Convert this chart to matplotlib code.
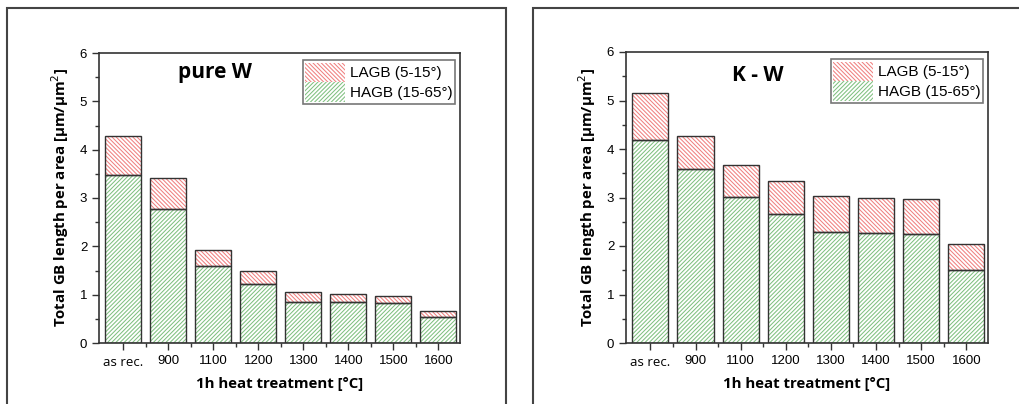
import matplotlib
matplotlib.use("Agg")
import matplotlib.pyplot as plt
from matplotlib.patches import Rectangle, Patch
from matplotlib.ticker import MultipleLocator, FixedLocator
import numpy as np

categories = ["as rec.", "900", "1100", "1200", "1300", "1400", "1500", "1600"]

pureW_total = [4.28, 3.41, 1.93, 1.49, 1.06, 1.02, 0.98, 0.66]
pureW_hagb = [3.47, 2.78, 1.59, 1.22, 0.84, 0.84, 0.83, 0.53]

KW_total = [5.15, 4.26, 3.68, 3.35, 3.04, 3.00, 2.97, 2.05]
KW_hagb = [4.19, 3.59, 3.02, 2.65, 2.29, 2.27, 2.25, 1.51]

titles = ["pure W", "K - W"]
legend_labels = ["LAGB (5-15°)", "HAGB (15-65°)"]
ylabel = "Total GB length per area [µm/µm$^2$]"
xlabel = "1h heat treatment [°C]"

RED = "#f08080"
GREEN = "#80c080"
EDGE = "#333333"
HATCH_G = "/" * 8
HATCH_R = "\\" * 8

plt.rcParams["hatch.linewidth"] = 0.75

W, H = 1020, 404
fig = plt.figure(figsize=(W / 100, H / 100), dpi=100)

# panel frames
for (x0, x1) in [(7, 506), (533, 1030)]:
    fig.patches.append(Rectangle((x0 / W, -0.05), (x1 - x0) / W, 1.05 - 8 / H,
                                 transform=fig.transFigure, fill=False,
                                 edgecolor="#444444", linewidth=1.5))

axes_px = [(99, 460, 53, 343), (626, 988, 52, 343)]
datasets = [(pureW_total, pureW_hagb), (KW_total, KW_hagb)]
title_pos = [(0.32, 0.934), (0.365, 0.918)]

for i, ((x0, x1, yt, yb), (tot, hagb)) in enumerate(zip(axes_px, datasets)):
    ax = fig.add_axes([x0 / W, 1 - yb / H, (x1 - x0) / W, (yb - yt) / H])
    x = np.arange(len(categories))
    lagb = [t - h for t, h in zip(tot, hagb)]
    # hatched fills
    ax.bar(x, hagb, width=0.8, color="white", edgecolor=GREEN, hatch=HATCH_G, linewidth=0)
    ax.bar(x, lagb, bottom=hagb, width=0.8, color="white", edgecolor=RED, hatch=HATCH_R, linewidth=0)
    # outlines
    ax.bar(x, hagb, width=0.8, fill=False, edgecolor=EDGE, linewidth=1.0)
    ax.bar(x, lagb, bottom=hagb, width=0.8, fill=False, edgecolor=EDGE, linewidth=1.0)

    ax.set_xlim(-0.54, 7.48)
    ax.set_ylim(0, 6)
    ax.set_xticks(x)
    ax.set_xticklabels(categories)
    for lbl in ax.get_xticklabels():
        lbl.set_family("Liberation Sans")
        lbl.set_fontsize(9.5)
    ax.get_xticklabels()[0].set_family("Open Sans")
    ax.get_xticklabels()[0].set_fontsize(8.5)
    ax.xaxis.set_minor_locator(FixedLocator(x[:-1] + 0.5))
    ax.yaxis.set_major_locator(MultipleLocator(1))
    ax.yaxis.set_minor_locator(MultipleLocator(0.5))
    ax.tick_params(axis="both", which="major", direction="out", length=5, width=1,
                   labelsize=9.5, color="#333333")
    ax.tick_params(axis="both", which="minor", direction="out", length=3, width=1, color="#333333")
    ax.tick_params(axis="x", pad=4)
    for lbl in ax.get_yticklabels():
        lbl.set_family("Liberation Sans")
    for s in ax.spines.values():
        s.set_linewidth(1.2)
        s.set_color("#333333")

    ax.set_ylabel(ylabel, fontsize=10.8, fontweight="bold", family="Open Sans", labelpad=6)
    ax.set_xlabel(xlabel, fontsize=10.8, fontweight="bold", family="Open Sans", labelpad=6)
    ax.text(title_pos[i][0], title_pos[i][1], titles[i], transform=ax.transAxes,
            fontsize=15, fontweight="bold", family="Open Sans", ha="center", va="center")

    handles = [Patch(facecolor="white", edgecolor=RED, hatch=HATCH_R, linewidth=0),
               Patch(facecolor="white", edgecolor=GREEN, hatch=HATCH_G, linewidth=0)]
    leg = ax.legend(handles, legend_labels, loc="upper right", bbox_to_anchor=(0.985, 0.975),
                    prop={"family": "Liberation Sans", "size": 11}, frameon=True,
                    fancybox=False, edgecolor="#555555", handlelength=2.6, handleheight=1.6,
                    labelspacing=0.0, borderpad=0.15, handletextpad=0.3, borderaxespad=0)
    leg.get_frame().set_linewidth(1.2)
    for h in leg.legend_handles:
        h.set_linewidth(0)

fig.savefig("out.png", dpi=100)
